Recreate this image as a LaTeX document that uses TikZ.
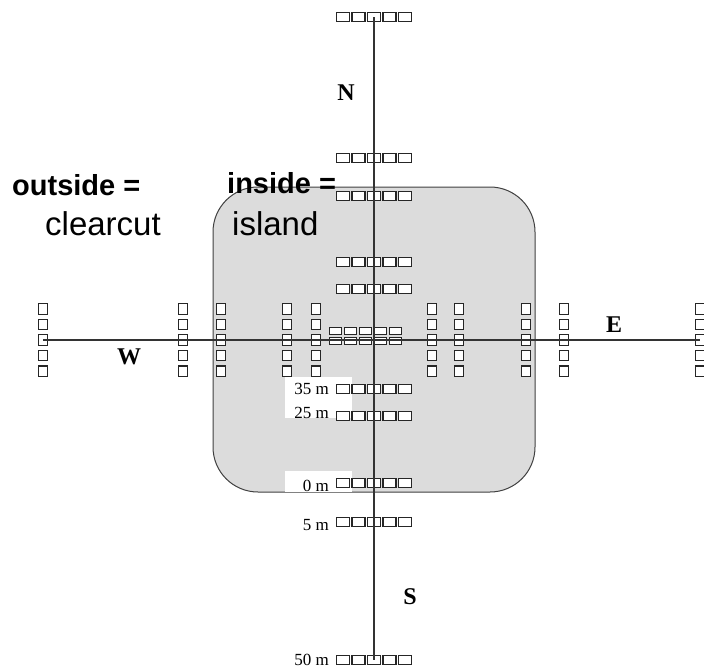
\documentclass[tikz,border=0pt]{standalone}
\usepackage{fontspec}
\setmainfont{Liberation Serif}
\newfontfamily\labelsans{Liberation Sans}
\definecolor{islandgray}{RGB}{220,220,220}

\begin{document}
\begin{tikzpicture}[x=1pt,y=-1pt,
    hplot/.style={draw=black!85,fill=white,line width=1.1pt,inner sep=0pt,minimum width=13pt,minimum height=9pt},
    vplot/.style={hplot,minimum width=9pt,minimum height=10.5pt},
    cplot/.style={hplot,minimum width=12pt,minimum height=7.5pt},
    dist/.style={anchor=east,inner sep=0pt,font=\fontsize{17}{17}\selectfont},
    compass/.style={inner sep=0pt,font=\fontsize{24}{24}\selectfont\bfseries},
    zone/.style={anchor=base west,inner sep=0pt,font=\labelsans\fontsize{29}{29}\selectfont\bfseries},
    zonename/.style={anchor=base west,inner sep=0pt,font=\labelsans\fontsize{33}{33}\selectfont}]
  \useasboundingbox (0,0) rectangle (704,670);
  % island and the white patches behind the labels
  \filldraw[fill=islandgray,draw=black!75,line width=1pt,rounded corners=45pt] (213,187) rectangle (535,492);
  \fill[white] (285,377) rectangle (352,418);
  \fill[white] (285,471) rectangle (352,492);
  % plots along N and S
  \foreach \pos/\tag in {17/n50,158/n5,196/n0,262/n25,289/n35,389/s35,416/s25,483/s0,522/s5,660/s50}
    \foreach \i in {1,...,5}
      \node[hplot] (\tag-\i) at ({374+15.5*(\i-3)},\pos) {};
  % plots along W and E
  \foreach \pos/\tag in {43/w50,183/w5,221/w0,287/w25,316/w35,432/e35,459/e25,526/e0,564/e5,700/e50}
    \foreach \i in {1,...,5}
      \node[vplot] (\tag-\i) at (\pos,{340+15.6*(\i-3)}) {};
  % centre plots
  \foreach \i in {1,...,5} {
    \node[cplot] (ca-\i) at ({365.5+15*(\i-3)},331) {};
    \node[cplot] (cb-\i) at ({365.5+15*(\i-3)},341) {};
  }
  % transects
  \draw[black!80,line width=1.3pt] (n50-3.center) -- (s50-3.center);
  \draw[black!80,line width=1.3pt] (w50-3.center) -- (e50-3.center);
  % distances
  \node[dist] (d35) at (329,389) {35 m};
  \node[dist] (d25) at (329,413) {25 m};
  \node[dist] (d0) at (329,486) {0 m};
  \node[dist] (d5) at (329,525) {5 m};
  \node[dist] (d50) at (329,660) {50 m};
  % directions
  \node[compass] (north) at (346,93) {N};
  \node[compass] (south) at (410,597) {S};
  \node[compass] (west) at (129,357) {W};
  \node[compass] (east) at (614,325) {E};
  % zones
  \node[zone] (outside) at (12,195) {outside =};
  \node[zonename] (clearcut) at (45,235) {clearcut};
  \node[zone] (inside) at (227,193) {inside =};
  \node[zonename] (island) at (232,235) {island};
\end{tikzpicture}
\end{document}
